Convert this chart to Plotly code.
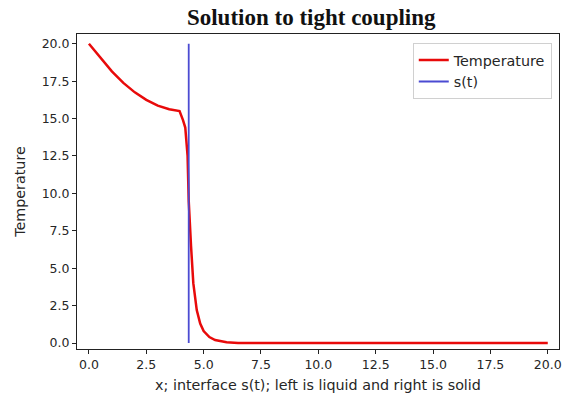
import plotly.graph_objects as go

# Temperature profile along x at the current time
x_vals = [0.0, 0.5, 1.0, 1.5, 2.0, 2.5, 3.0, 3.5, 3.95, 4.1, 4.2, 4.3, 4.35,
          4.45, 4.55, 4.7, 4.85, 5.0, 5.25, 5.5, 6.0, 6.5, 8.0, 10.0, 12.5,
          15.0, 17.5, 20.0]
temperature = [20.0, 19.05, 18.15, 17.38, 16.75, 16.25, 15.86, 15.62, 15.5,
               14.9, 14.4, 12.5, 9.5, 6.5, 4.0, 2.2, 1.3, 0.8, 0.4, 0.2, 0.05,
               0.0, 0.0, 0.0, 0.0, 0.0, 0.0, 0.0]

# Interface position s(t), drawn as a vertical segment
s_t = 4.35
s_line_y = [0.0, 20.0]

tick_vals = [0.0, 2.5, 5.0, 7.5, 10.0, 12.5, 15.0, 17.5, 20.0]

label_font = dict(family="DejaVu Sans", size=14.3, color="#262626")

fig = go.Figure()
fig.add_trace(go.Scatter(
    x=x_vals, y=temperature, mode="lines", name="Temperature",
    line=dict(color="rgb(232,10,10)", width=2.5),
))
fig.add_trace(go.Scatter(
    x=[s_t, s_t], y=s_line_y, mode="lines", name="s(t)",
    line=dict(color="rgb(75,75,210)", width=1.8),
))

axis_common = dict(
    showline=True, mirror=True, linecolor="#222", linewidth=1,
    showgrid=False, zeroline=False, ticks="outside", ticklen=4,
    tickcolor="#222", tickwidth=1, tickvals=tick_vals, tickformat=".1f",
    tickfont=dict(family="DejaVu Sans", size=12.5, color="#262626"),
)

fig.update_layout(
    width=569, height=397,
    margin=dict(l=77, r=7, t=34, b=48),
    paper_bgcolor="white", plot_bgcolor="white",
    title=dict(
        text="<b>Solution to tight coupling</b>",
        font=dict(family="Liberation Serif", size=23, color="#111"),
        x=0.547, xanchor="center", y=0.957, yanchor="middle",
    ),
    xaxis=dict(
        range=[-0.52, 20.49],
        title=dict(text="x; interface s(t); left is liquid and right is solid",
                   font=label_font, standoff=8),
        **axis_common,
    ),
    yaxis=dict(
        range=[-0.40, 20.65],
        title=dict(text="Temperature", font=label_font, standoff=12),
        **axis_common,
    ),
    legend=dict(
        x=0.985, y=0.971, xanchor="right", yanchor="top",
        bgcolor="white", bordercolor="#d0d0d0", borderwidth=1,
        font=label_font, itemwidth=30, tracegroupgap=2,
    ),
    showlegend=True,
)

fig.write_html("out.html")
